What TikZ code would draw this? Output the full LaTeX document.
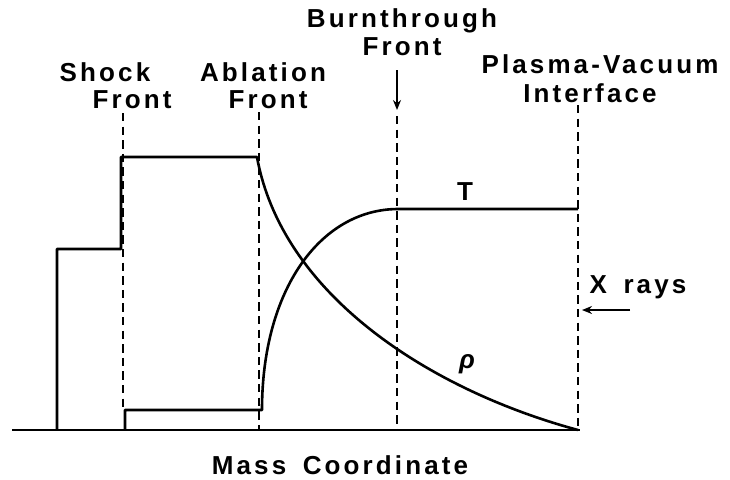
\documentclass[tikz,border=0pt]{standalone}
\usepackage{fontspec}
\setmainfont{Liberation Sans}[LetterSpace=12,WordSpace=1.6]
\usetikzlibrary{arrows.meta,positioning}
\tikzset{
 lbl/.style={font=\fontsize{13}{15}\selectfont\bfseries,inner sep=0pt},
 curve/.style={line width=1.3pt,line join=round},
 front/.style={dash pattern=on 4.2pt off 2.6pt,line width=1.15pt},
 pointer/.style={-{Stealth[length=5pt,width=4pt]},line width=1.1pt}
}

\begin{document}
\begin{tikzpicture}[x=0.5pt,y=-0.5pt]
  \useasboundingbox (0,0) rectangle (730,479);

  % labels of the fronts
  \node[lbl] (shock) at (105,72) {Shock};
  \node[lbl] (shockf) at (132,100) {Front};
  \node[lbl] (abl) at (263,72) {Ablation};
  \node[lbl] (ablf) at (268,100) {Front};
  \node[lbl] (burn) at (402,21) {Burnthrough};
  \node[lbl] (burnf) at (402,47) {Front};
  \node[lbl] (plasma) at (600,64) {Plasma-Vacuum};
  \node[lbl] (iface) at (590,93) {Interface};
  \node[lbl] (xrays) at (638,287) {X rays};
  \node[lbl] (temp) at (465,192) {T};
  \node[lbl] (rho) at (467,364) {\itshape ρ};
  \node[lbl] (mass) at (340,465) {Mass Coordinate};

  \coordinate (shocktop) at (123,113);
  \coordinate (shockbot) at (123,408);
  \coordinate (abltop) at (259,112);
  \coordinate (ablbot) at (259,430);
  \coordinate (burntop) at (397,70);
  \coordinate (burnmid) at (397,110);
  \coordinate (burnbot) at (397,430);
  \coordinate (vactop) at (578,105);
  \coordinate (vacbot) at (578,430);
  \coordinate (xtail) at (630,310);
  \coordinate (xhead) at (582,310);

  % axis
  \draw[curve] (12,430) -- (580,430);

  % density profile
  \draw[curve] (57,430) -- (57,249) -- (121,249) -- (121,157) -- (257,157)
    .. controls (282,295) and (430,390) .. (578,430);

  % temperature profile
  \draw[curve] (125,430) -- (125,410) -- (262,410)
    .. controls (262,290) and (320,210) .. (397,209) -- (578,209);

  % fronts
  \draw[front] (shocktop) -- (shockbot);
  \draw[front] (abltop) -- (ablbot);
  \draw[pointer] (burntop) -- (burnmid);
  \draw[front] ([yshift=-3pt]burnmid) -- (burnbot);
  \draw[front] (vactop) -- (vacbot);
  \draw[pointer] (xtail) -- (xhead);
\end{tikzpicture}
\end{document}
